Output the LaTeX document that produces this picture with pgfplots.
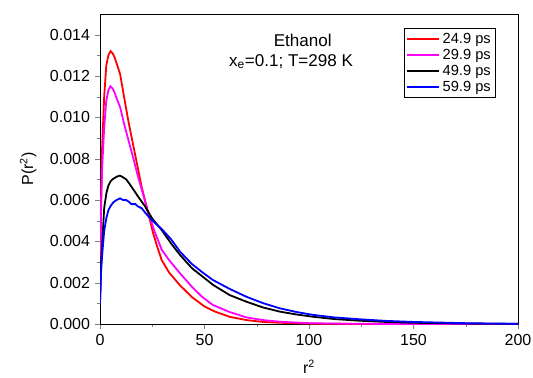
\documentclass[border=0pt]{standalone}
\usepackage{pgfplots}
\pgfplotsset{compat=1.18}
\usepackage{fontspec}
\setmainfont{Liberation Sans}
\definecolor{curvered}{RGB}{255,0,0}
\definecolor{curvepink}{RGB}{255,0,255}
\definecolor{curveblue}{RGB}{0,0,255}
\begin{document}
\begin{tikzpicture}
\begin{axis}[
  scale only axis,
  width=313.5pt, height=232.5pt,
  xmin=0, xmax=200, ymin=0, ymax=0.015,
  xtick={0,50,100,150,200},
  ytick={0,0.002,0.004,0.006,0.008,0.010,0.012,0.014},
  minor x tick num=1, minor y tick num=1,
  tick pos=left, tick align=outside,
  major tick length=4pt, minor tick length=2.5pt,
  scaled y ticks=false,
  /pgf/number format/assume math mode=true,
  yticklabel style={/pgf/number format/.cd, fixed, fixed zerofill, precision=3},
  xticklabel style={/pgf/number format/.cd, fixed},
  tick label style={font=\fontsize{12}{14}\selectfont},
  label style={font=\fontsize{12}{14}\selectfont},
  xlabel={r\textsuperscript{2}},
  ylabel={P(r\textsuperscript{2})},
  xlabel style={at={(axis description cs:0.5,-0.138)}, anchor=center},
  ylabel style={at={(axis description cs:-0.172,0.5)}, anchor=center},
  legend style={at={(rel axis cs:0.947,0.955)}, anchor=north east,
    font=\fontsize{11}{12}\selectfont, draw=black, line width=0.6pt,
    row sep=-1.2pt, inner sep=1.5pt},
  legend cell align=left,
  legend image code/.code={\draw[#1] (0cm,0cm) -- (0.85cm,0cm);},
  every axis plot/.append style={line width=1.35pt},
  clip=true,
]
\addplot[curvered] coordinates {
(0,0.001)(0.5,0.006)(1,0.0085)(2,0.011)(3,0.0125)(4,0.0130)(5,0.0132)(6,0.0131)(7,0.0129)(8,0.0126)(9.6,0.0121)(11.5,0.0110)(13.6,0.0098)(16,0.0086)(18,0.0076)(20,0.0066)(23,0.0054)(25.4,0.0044)(27.5,0.0037)(29.5,0.0031)(33,0.0025)(38,0.0019)(44,0.0013)(50,0.00085)(55,0.0006)(62,0.00035)(70,0.00019)(78,0.0001)(86,0.00006)(100,0.00002)(120,0.000005)(150,0.000001)(200,0)
};
\addlegendentry{24.9 ps}
\addplot[curvepink] coordinates {
(0,0.001)(0.5,0.0055)(1,0.0075)(2,0.0095)(3,0.0108)(4,0.0113)(5,0.0115)(6,0.0114)(7,0.0112)(8,0.0109)(9.6,0.0105)(11.5,0.0097)(13.6,0.0089)(16,0.0080)(18,0.0072)(20,0.0065)(23,0.0054)(26,0.0045)(29.5,0.0036)(33,0.0031)(38.3,0.00245)(44,0.0018)(49,0.0013)(54,0.00092)(62,0.00058)(70,0.00032)(78,0.00019)(86,0.00011)(100,0.00004)(120,0.00001)(150,0.000002)(200,0)
};
\addlegendentry{29.9 ps}
\addplot[black] coordinates {
(0,0.001)(0.5,0.003)(1,0.0038)(2,0.0056)(3,0.0063)(4,0.0067)(5,0.0069)(6,0.0070)(8,0.00713)(9.5,0.00718)(11,0.0071)(12.5,0.0070)(14,0.0068)(16,0.0065)(18,0.0062)(21.5,0.0057)(25,0.0051)(29.5,0.00455)(34,0.0039)(38.3,0.00334)(44,0.0027)(49,0.0023)(54,0.0019)(62,0.0014)(70,0.00108)(78,0.0008)(86,0.0006)(94,0.00046)(102,0.00035)(112,0.00024)(124,0.00016)(137,0.0001)(150,0.00006)(175,0.00002)(200,0.00001)
};
\addlegendentry{49.9 ps}
\addplot[curveblue] coordinates {
(0,0.001)(0.5,0.0025)(1,0.0033)(2,0.0045)(3,0.0051)(4,0.0055)(5,0.0057)(6.5,0.0059)(8,0.0060)(9.6,0.00608)(11,0.0060)(12.5,0.0060)(14,0.0059)(15,0.0058)(17,0.0058)(18,0.0057)(20,0.0056)(21.5,0.0054)(25,0.0050)(29.5,0.0046)(34,0.0041)(38.3,0.0035)(44,0.0029)(49,0.0025)(54,0.00213)(62,0.0017)(70,0.00132)(78,0.00101)(86,0.00076)(94,0.00058)(102,0.00044)(112,0.00032)(124,0.00023)(137,0.00015)(150,0.0001)(175,0.00004)(200,0.00001)
};
\addlegendentry{59.9 ps}
\node[font=\fontsize{12.8}{14}\selectfont] at (axis cs:97,0.01370) {Ethanol};
\node[font=\fontsize{12.8}{14}\selectfont] at (axis cs:91.4,0.01269) {x\textsubscript{e}=0.1; T=298 K};
\end{axis}
\pgfresetboundingbox
\path ([shift={(-75pt,-40pt)}]current axis.south west) rectangle ([shift={(11.25pt,10.5pt)}]current axis.north east);
\end{tikzpicture}
\end{document}
